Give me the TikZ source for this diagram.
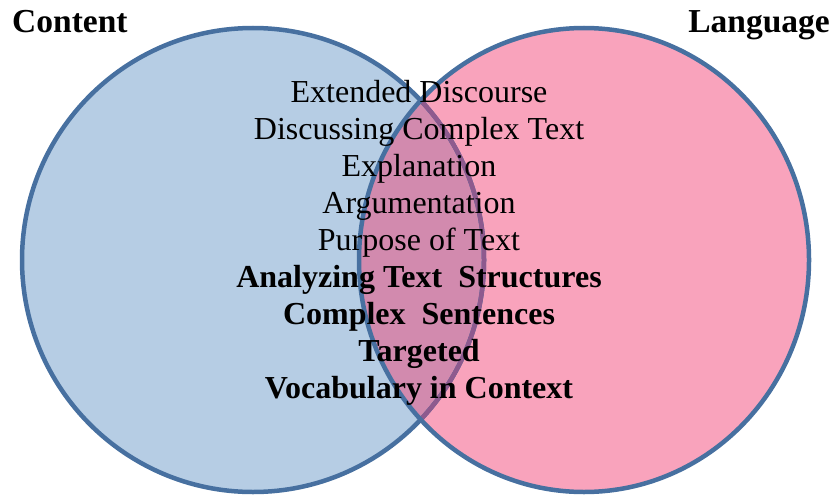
\documentclass[tikz,border=0pt]{standalone}
\usepackage{fontspec}
\setmainfont{Liberation Serif}
\definecolor{contentblue}{HTML}{B6CDE4}
\definecolor{languagepink}{HTML}{F9A3BC}
\definecolor{overlapmauve}{HTML}{D28AAE}
\definecolor{rimblue}{HTML}{4770A0}
\definecolor{rimpurple}{HTML}{8E5A8E}
\tikzset{
  item/.style={anchor=base, inner sep=0pt, font=\fontsize{32}{37}\selectfont},
  heading/.style={inner sep=0pt, font=\fontsize{33.5}{38}\selectfont\bfseries}
}
\begin{document}
\begin{tikzpicture}[x=1pt,y=-1pt]
  \useasboundingbox (0,0) rectangle (837,495);
  % the two sets
  \fill[contentblue] (253,260) ellipse[x radius=231, y radius=232];
  \fill[languagepink] (584,260) ellipse[x radius=225, y radius=232];
  \begin{scope}
    \clip (253,260) ellipse[x radius=231, y radius=232];
    \fill[overlapmauve] (584,260) ellipse[x radius=225, y radius=232];
  \end{scope}
  \draw[rimblue, line width=4.5] (253,260) ellipse[x radius=231, y radius=232];
  \begin{scope}
    \clip (584,260) ellipse[x radius=225, y radius=232];
    \draw[rimpurple, line width=4.5] (253,260) ellipse[x radius=231, y radius=232];
  \end{scope}
  \draw[rimblue, line width=4.5] (584,260) ellipse[x radius=225, y radius=232];
  % set names
  \node[heading, anchor=base west] (content) at (12,33) {Content};
  \node[heading, anchor=base east] (language) at (830,33) {Language};
  % shared items
  \foreach \txt [count=\i] in {Extended Discourse, Discussing Complex Text,
      Explanation, Argumentation, Purpose of Text,
      \textbf{Analyzing Text\ \ Structures}, \textbf{Complex\ \ Sentences},
      \textbf{Targeted}, \textbf{Vocabulary in Context}}
    \node[item] (line\i) at (419,{102+37*(\i-1)}) {\txt};
\end{tikzpicture}
\end{document}
